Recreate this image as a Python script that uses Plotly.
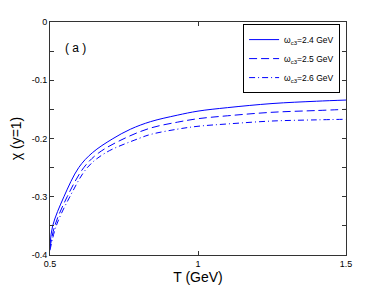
import plotly.graph_objects as go

# Data
T_solid = [0.5, 0.509, 0.547, 0.597, 0.643, 0.71, 0.772, 0.84, 0.93, 1.0, 1.1, 1.25, 1.4, 1.5]
chi_solid = [-0.383, -0.35, -0.30, -0.25, -0.2245, -0.201, -0.184, -0.171, -0.160, -0.153, -0.147, -0.140, -0.136, -0.134]

T_dash = [0.5, 0.516, 0.558, 0.614, 0.665, 0.755, 0.84, 0.93, 1.0, 1.1, 1.25, 1.4, 1.5]
chi_dash = [-0.388, -0.35, -0.30, -0.25, -0.2245, -0.199, -0.182, -0.172, -0.166, -0.161, -0.155, -0.152, -0.150]

T_dashdot = [0.5, 0.521, 0.567, 0.626, 0.688, 0.80, 0.84, 0.93, 1.0, 1.1, 1.25, 1.4, 1.5]
chi_dashdot = [-0.392, -0.35, -0.30, -0.25, -0.2245, -0.200, -0.193, -0.184, -0.179, -0.175, -0.170, -0.168, -0.167]

names = ["ω<sub>c3</sub>=2.4 GeV", "ω<sub>c3</sub>=2.5 GeV", "ω<sub>c3</sub>=2.6 GeV"]

x_ticks = [0.5, 1, 1.5]
x_ticktext = ["0.5", "1", "1.5"]
y_ticks = [0, -0.05, -0.1, -0.15, -0.2, -0.25, -0.3, -0.35, -0.4]
y_ticktext = ["0", "", "-0.1", "", "-0.2", "", "-0.3", "", "-0.4"]

fig = go.Figure()
fig.add_trace(go.Scatter(x=T_solid, y=chi_solid, mode="lines", name=names[0],
                         line=dict(color="#0000ff", width=1, shape="spline", smoothing=1.0)))
fig.add_trace(go.Scatter(x=T_dash, y=chi_dash, mode="lines", name=names[1],
                         line=dict(color="#0000ff", width=1, dash="8px,4px", shape="spline", smoothing=1.0)))
fig.add_trace(go.Scatter(x=T_dashdot, y=chi_dashdot, mode="lines", name=names[2],
                         line=dict(color="#0000ff", width=1, dash="6px,3px,1px,3px", shape="spline", smoothing=1.0)))

axis_common = dict(showline=True, linecolor="#333333", linewidth=1, mirror="ticks",
                   ticks="inside", ticklen=4, tickcolor="#333333", showgrid=False,
                   zeroline=False, automargin=False, tickfont=dict(size=9, color="#000000"))

fig.update_xaxes(range=[0.5, 1.5], tickvals=x_ticks, ticktext=x_ticktext,
                 title=dict(text="T (GeV)", font=dict(size=14, color="#000000"), standoff=0),
                 **axis_common)
fig.update_yaxes(range=[-0.4, 0.0000001], tickvals=y_ticks, ticktext=y_ticktext,
                 title=dict(text="χ (y=1)", font=dict(size=14, color="#000000"), standoff=18),
                 **axis_common)

fig.add_annotation(text="( a )", xref="paper", yref="paper", x=0.085, y=0.888,
                   xanchor="center", yanchor="middle",
                   showarrow=False, font=dict(size=12, color="#000000"))

# page body adds an 8px offset, so the figure is sized to fit inside the window
fig.update_layout(
    width=374, height=279,
    margin=dict(l=42, r=36, t=14, b=32, autoexpand=False),
    paper_bgcolor="white", plot_bgcolor="white",
    font=dict(family="Liberation Sans, Arial, sans-serif"),
    legend=dict(x=0.98, y=0.991, xanchor="right", yanchor="top",
                bgcolor="white", bordercolor="#000000", borderwidth=1,
                font=dict(size=8.5, color="#000000"), tracegroupgap=0,
                itemwidth=30),
    showlegend=True,
)

fig.write_html("out.html")
